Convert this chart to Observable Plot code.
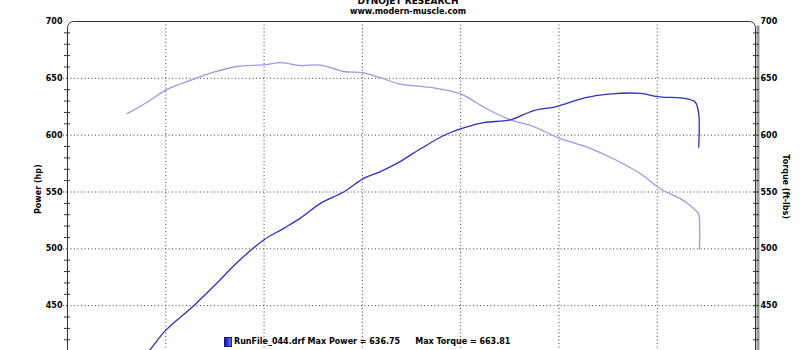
<!DOCTYPE html>
<html>
<head>
<meta charset="utf-8">
<script src="https://cdn.jsdelivr.net/npm/d3@7"></script>
<script src="https://cdn.jsdelivr.net/npm/@observablehq/plot@0.6"></script>
<style>
  html, body { margin: 0; padding: 0; background: #fff; }
  #wrap { position: relative; width: 800px; height: 350px; overflow: hidden; font-family: "DejaVu Sans", Verdana, sans-serif; font-weight: bold; font-size: 8px; color: #000; }
  .abs { position: absolute; white-space: pre; }
  #title1 { top: -4px; left: 0; width: 816px; text-align: center; font-size: 9px; line-height: 10px; }
  #title2 { top: 7px; left: 0; width: 816px; text-align: center; font-size: 8px; line-height: 10px; }
  #legend { top: 337px; left: 224px; line-height: 10px; display: flex; align-items: center; }
  #legend .sw { display: inline-block; width: 6px; height: 8px; border: 0.5px solid #1a1a80; background: linear-gradient(90deg, #1010b0, #7070ff); margin-right: 2px; }
</style>
</head>
<body>
<div id="wrap">
  <div id="chart"></div>
  <div class="abs" id="title1">DYNOJET RESEARCH</div>
  <div class="abs" id="title2">www.modern-muscle.com</div>
  <div class="abs" id="legend"><span class="sw"></span><span>RunFile_044.drf Max Power = 636.75</span><span style="margin-left:15px">Max Torque = 663.81</span></div>
</div>
<script>
// Engine speed (rpm) and readings
const torqueRpm = [3304,3405,3504,3575,3660,3744,3863,3998,4083,4185,4287,4405,4507,4592,4694,4863,4999,5135,5253,5372,5491,5643,5779,5915,6017,6120,6169,6200,6211,6216,6215];
const torqueVals = [619,629,640,645,650.4,655.4,660.4,661.8,663.8,661.3,661.6,656,654.8,650.4,645,641.6,636.3,623,613.5,607.6,598,589.4,579,566,552.7,544,538,533,530.7,519,500];

const powerRpm = [3300,3414,3498,3642,3778,3863,4000,4100,4185,4287,4405,4507,4592,4694,4796,4914,4999,5118,5253,5372,5487,5630,5766,5915,6002,6152,6194,6211,6211];
const powerVals = [388,410,428,450,473,488,508,518,527,540,550,562,568,577,588,599.7,605.5,611,613.5,621.7,625.2,632.8,636.3,636.75,634,632,629,618.8,589.4];

const majorTicks = [450,500,550,600,650,700];
const gridYVals = [450,500,550,600,650];
const gridXVals = [3500,4000,4500,5000,5500,6000];
const minorTicks = d3.range(410, 700, 10).filter(v => v % 50 !== 0);

const torque = torqueRpm.map((r, i) => ({rpm: r, v: torqueVals[i]}));
const power = powerRpm.map((r, i) => ({rpm: r, v: powerVals[i]}));

const chart = Plot.plot({
  width: 800,
  height: 362,
  marginLeft: 67,
  marginRight: 45,
  marginTop: 21,
  marginBottom: 0,
  style: {fontFamily: "DejaVu Sans, Verdana, sans-serif", fontSize: "8px", fontWeight: "bold", color: "#000", background: "#fff"},
  x: {domain: [3000, 6500], axis: null},
  y: {domain: [400, 700], axis: null},
  marks: [
    Plot.gridY(gridYVals, {stroke: "#444", strokeOpacity: 1, strokeDasharray: "1,2.5"}),
    Plot.gridX(gridXVals, {stroke: "#444", strokeOpacity: 1, strokeDasharray: "1,2.5"}),
    Plot.ruleX([6500], {y1: 696, y2: 400, dx: 2.5, stroke: "#9a9a9a", strokeWidth: 3}),
    Plot.frame({stroke: "#333", rx: 6}),
    Plot.axisY(majorTicks, {anchor: "left", tickSize: 0, tickPadding: 5, label: null, fill: "#000"}),
    Plot.axisY(gridYVals, {anchor: "left", tickSize: 4, tickFormat: () => "", label: null, strokeDasharray: "1,2", stroke: "#444"}),
    Plot.axisY(minorTicks, {anchor: "left", tickSize: 6, dx: 3, tickFormat: () => "", label: null, stroke: "#333"}),
    Plot.axisY(majorTicks, {anchor: "right", tickSize: 0, tickPadding: 5, label: null, fill: "#000"}),
    Plot.axisY(minorTicks.concat(gridYVals), {anchor: "right", tickSize: 6, dx: -3, tickFormat: () => "", label: null, stroke: "#333"}),
    Plot.text(["Power (hp)"], {frameAnchor: "left", dx: -29, dy: 22, rotate: -90, fill: "#000"}),
    Plot.text(["Torque (ft-lbs)"], {frameAnchor: "right", dx: 30, dy: 27, rotate: 90, fill: "#000"}),
    Plot.line(torque, {x: "rpm", y: "v", stroke: "#9a9ae6", strokeWidth: 1.3, curve: "catmull-rom", clip: true}),
    Plot.line(power, {x: "rpm", y: "v", stroke: "#2f2fc0", strokeWidth: 1.3, curve: "catmull-rom", clip: true})
  ]
});
document.getElementById("chart").appendChild(chart);
</script>
</body>
</html>
